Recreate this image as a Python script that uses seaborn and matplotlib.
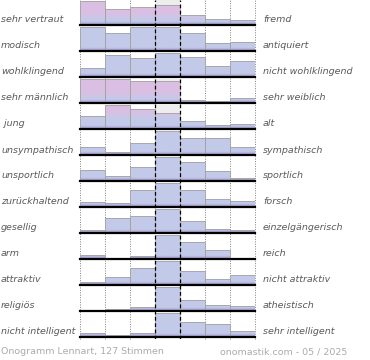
# onogramm.py
# Semantic differential chart ("Onogramm") for a first name, drawn with seaborn bars

import numpy as np
import matplotlib
matplotlib.use("Agg")
import matplotlib.pyplot as plt
import seaborn as sns
from matplotlib.colors import to_rgb
from matplotlib.path import Path

# Data (bar heights, relative within each row)
left_labels = ["sehr vertraut", "modisch", "wohlklingend", "sehr männlich", " jung",
               "unsympathisch", "unsportlich", "zurückhaltend", "gesellig", "arm",
               "attraktiv", "religiös", "nicht intelligent"]
right_labels = ["fremd", "antiquiert", "nicht wohlklingend", "sehr weiblich", "alt",
                "sympathisch", "sportlich", "forsch", "einzelgängerisch", "reich",
                "nicht attraktiv", "atheistisch", "sehr intelligent"]
scale_steps = ["1", "2", "3", "4", "5", "6", "7"]

row_sehr_vertraut = [24.3, 16.0, 17.7, 20.0, 10.0, 5.7, 5.0]
row_modisch = [24.3, 17.7, 24.3, 24.3, 18.3, 7.7, 8.7]
row_wohlklingend = [8.3, 21.0, 18.0, 23.4, 19.3, 11.0, 15.3]
row_maennlich = [23.3, 23.3, 21.0, 21.0, 3.0, 1.7, 5.0]
row_jung = [12.7, 24.3, 20.3, 16.0, 7.7, 4.3, 5.5]
row_unsympathisch = [8.3, 3.0, 11.7, 24.0, 16.5, 16.5, 8.3]
row_unsportlich = [10.7, 5.0, 14.0, 24.0, 19.0, 10.0, 3.0]
row_zurueckhaltend = [4.7, 4.0, 16.7, 24.0, 17.0, 7.7, 5.7]
row_gesellig = [2.7, 14.3, 16.0, 23.4, 12.0, 4.0, 3.0]
row_arm = [4.0, 0.0, 3.3, 24.0, 17.3, 9.0, 0.5]
row_attraktiv = [3.3, 8.0, 17.3, 24.0, 14.0, 6.0, 9.5]
row_religioes = [0.0, 1.7, 4.0, 24.0, 10.7, 6.3, 5.0]
row_intelligent = [4.0, 2.4, 4.0, 24.0, 14.4, 12.4, 5.7]

rows = [row_sehr_vertraut, row_modisch, row_wohlklingend, row_maennlich, row_jung,
        row_unsympathisch, row_unsportlich, row_zurueckhaltend, row_gesellig, row_arm,
        row_attraktiv, row_religioes, row_intelligent]

# where (fraction of row height) the fill starts turning pink, None = stays blue
pink_start = [0.2, None, None, 0.15, 0.4, None, None, None, None, None, None, None, None]

footer_left = "Onogramm Lennart, 127 Stimmen"
footer_right = "onomastik.com - 05 / 2025"

# Layout in pixels
W, H = 370, 360
PLOT_X0, PLOT_X1 = 80, 255
FIRST_BASE, PITCH, ROW_H = 25, 26, 25

DARK = np.array(to_rgb("#9a8ec4"))
BLUE = np.array(to_rgb("#c3cae9"))
PINK = np.array(to_rgb("#dbbfe3"))
TEXT = "#5a5a5a"


def px_rect(x0, y_top, w, h):
    """pixel box (from top-left) -> figure fraction rect"""
    return [x0 / W, 1 - (y_top + h) / H, w / W, h / H]


def gradient(pstart):
    y = np.linspace(0, 1, 200)[:, None]
    t = np.clip(y / 0.14, 0, 1)
    rgb = DARK * (1 - t) + BLUE * t
    if pstart is not None:
        s = np.clip((y - pstart) / 0.3, 0, 1)
        rgb = rgb * (1 - s) + PINK * s
    return rgb[:, None, :]


def draw_row(fig, i, values):
    base = FIRST_BASE + PITCH * i
    ax = fig.add_axes(px_rect(PLOT_X0, base - ROW_H, PLOT_X1 - PLOT_X0, ROW_H))
    ax.patch.set_alpha(0)

    sns.barplot(x=scale_steps, y=values, ax=ax, width=1.0, color=BLUE,
                errorbar=None, edgecolor="#a3a3a3", linewidth=0.6)
    top = max(values) * 1.03
    ax.set_xlim(-0.5, 6.5)
    ax.set_ylim(0, top)

    # gradient fill, clipped to the bar outlines
    bars = list(ax.containers[0])
    paths = [b.get_path().transformed(b.get_patch_transform()) for b in bars]
    clip = Path.make_compound_path(*paths)
    im = ax.imshow(gradient(pink_start[i]), origin="lower", aspect="auto",
                   extent=(-0.5, 6.5, 0, top), zorder=1, interpolation="bilinear")
    im.set_clip_path(clip, ax.transData)
    for b in bars:
        b.set_facecolor("none")
        b.set_zorder(2)

    # neutral column background
    ax.axvspan(2.5, 3.5, color="#ededed", zorder=0, lw=0)
    ax.axhline(0, color="black", lw=1.6, zorder=3, clip_on=False)
    ax.set_axis_off()

    fig.text(1 / W, 1 - (base - 5) / H, left_labels[i], ha="left", va="center",
             fontsize=6.8, style="italic", color=TEXT)
    fig.text(263 / W, 1 - (base - 5) / H, right_labels[i], ha="left", va="center",
             fontsize=6.8, style="italic", color=TEXT)


def main():
    fig = plt.figure(figsize=(W / 100, H / 100), dpi=100)
    fig.patch.set_facecolor("white")

    # dotted grid behind everything
    bottom = FIRST_BASE + PITCH * (len(rows) - 1) + 2
    ax_bg = fig.add_axes(px_rect(PLOT_X0, 0, PLOT_X1 - PLOT_X0, bottom), zorder=-1)
    ax_bg.set_xlim(-0.5, 6.5)
    ax_bg.set_ylim(0, 1)
    for x in [-0.5, 0.5, 1.5, 4.5, 5.5, 6.5]:
        ax_bg.axvline(x, color="#808080", lw=0.7, ls=(0, (1, 1.5)), clip_on=False)
    ax_bg.set_axis_off()

    for i, values in enumerate(rows):
        draw_row(fig, i, values)

    # dashed lines around the neutral column, on top
    ax_top = fig.add_axes(px_rect(PLOT_X0, 0, PLOT_X1 - PLOT_X0, bottom), zorder=10)
    ax_top.patch.set_alpha(0)
    ax_top.set_xlim(-0.5, 6.5)
    ax_top.set_ylim(0, 1)
    for x in [2.5, 3.5]:
        ax_top.axvline(x, color="black", lw=0.9, ls=(0, (3, 2)))
    ax_top.set_axis_off()

    fig.text(1 / W, 1 - 352 / H, footer_left, ha="left", va="center",
             fontsize=6.8, color="#ababab")
    fig.text(347 / W, 1 - 352 / H, footer_right, ha="right", va="center",
             fontsize=6.8, color="#ababab")

    fig.savefig("out.png", dpi=100)


if __name__ == "__main__":
    main()
